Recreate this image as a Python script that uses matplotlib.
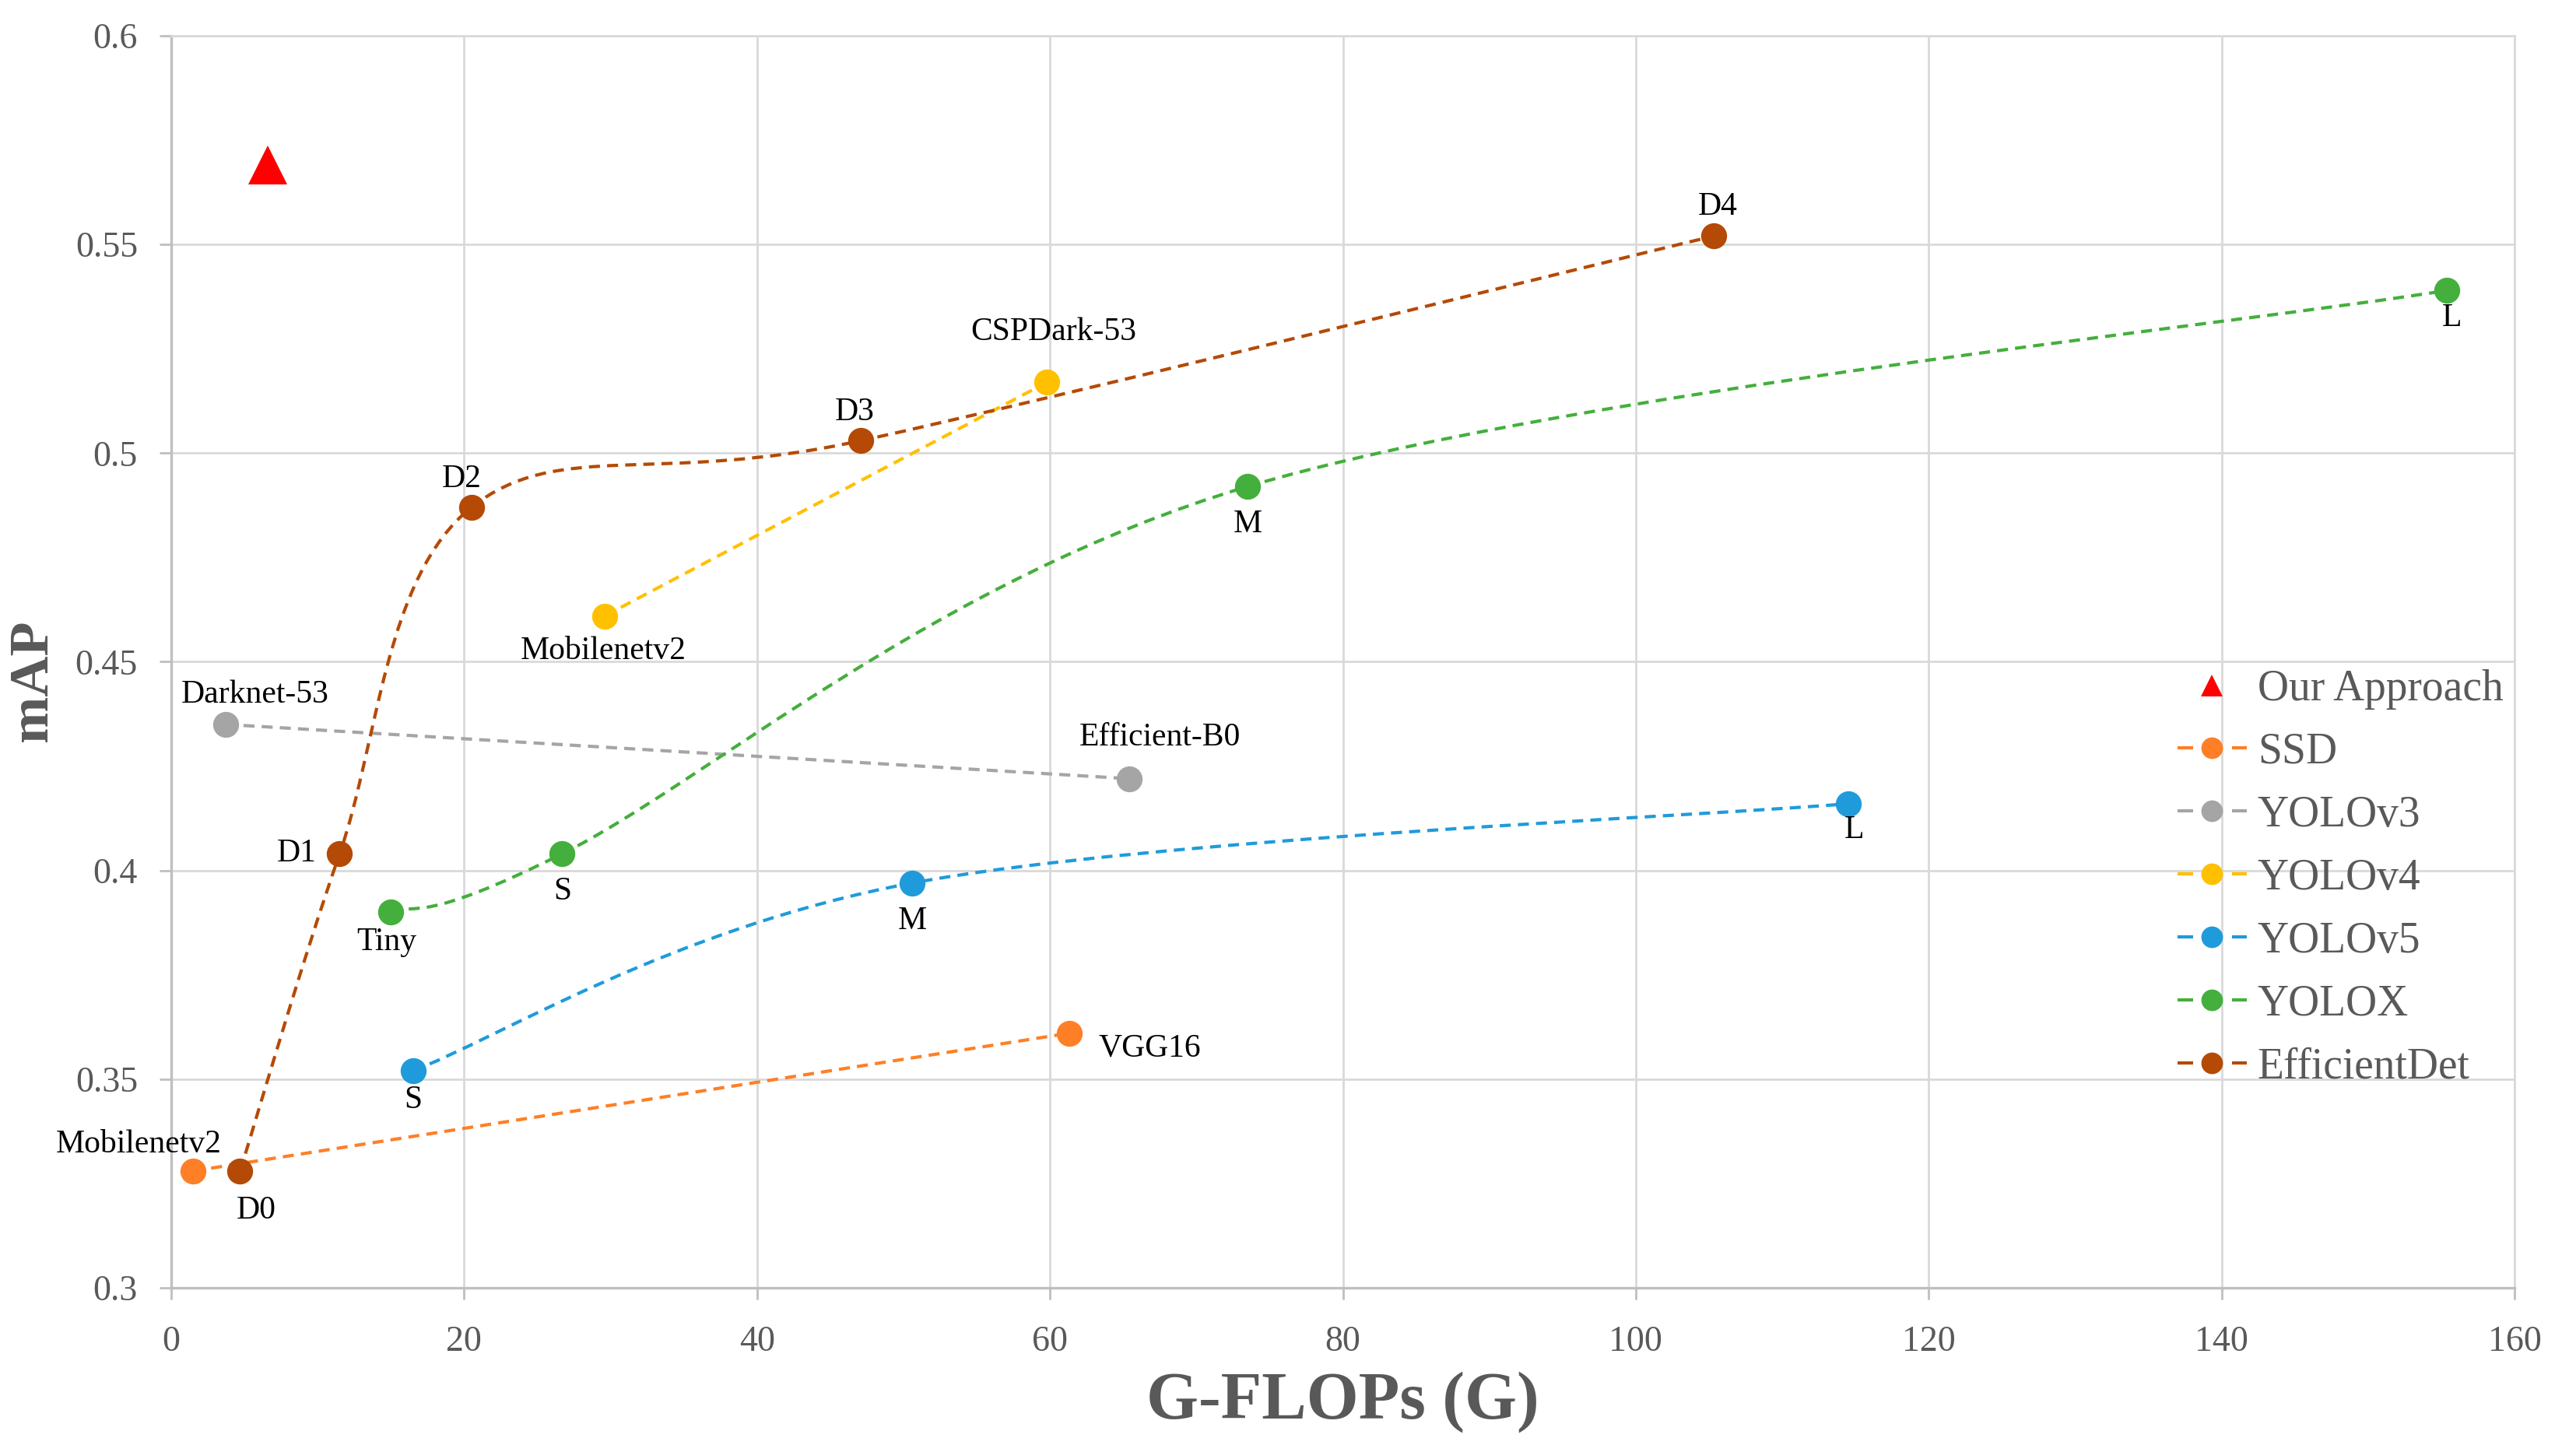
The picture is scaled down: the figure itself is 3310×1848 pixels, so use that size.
import matplotlib
matplotlib.use("Agg")
import matplotlib.pyplot as plt
from matplotlib.path import Path
from matplotlib.patches import PathPatch
from matplotlib.lines import Line2D
import numpy as np

plt.rcParams['font.family'] = ['Liberation Serif', 'DejaVu Serif']

# ---------------- data ----------------
ours_x = [6.6]
ours_y = [0.569]

ssd_x = [1.5, 61.3]
ssd_y = [0.328, 0.361]
ssd_labels = ["Mobilenetv2", "VGG16"]

v3_x = [3.7, 65.4]
v3_y = [0.435, 0.422]
v3_labels = ["Darknet-53", "Efficient-B0"]

v4_x = [29.6, 59.8]
v4_y = [0.461, 0.517]
v4_labels = ["Mobilenetv2", "CSPDark-53"]

v5_x = [16.5, 50.6, 114.5]
v5_y = [0.352, 0.397, 0.416]
v5_labels = ["S", "M", "L"]

yx_x = [15.0, 26.7, 73.5, 155.4]
yx_y = [0.390, 0.404, 0.492, 0.539]
yx_labels = ["Tiny", "S", "M", "L"]

ed_x = [4.7, 11.5, 20.5, 47.1, 105.3]
ed_y = [0.328, 0.404, 0.487, 0.503, 0.552]
ed_labels = ["D0", "D1", "D2", "D3", "D4"]

x_ticks = [0, 20, 40, 60, 80, 100, 120, 140, 160]
y_ticks = [0.3, 0.35, 0.4, 0.45, 0.5, 0.55, 0.6]
y_ticklabels = ["0.3", "0.35", "0.4", "0.45", "0.5", "0.55", "0.6"]

# ---------------- style ----------------
C_SSD = "#FF7F27"
C_V3 = "#A5A5A5"
C_V4 = "#FFC000"
C_V5 = "#1F9BDB"
C_YX = "#44AF3C"
C_ED = "#B44A06"
GRID = "#D9D9D9"
TXT = "#595959"

W, H = 3310, 1848
DPI = 200
fig = plt.figure(figsize=(W / DPI, H / DPI), dpi=DPI)
ax = fig.add_axes([220 / W, 1 - 1655 / H, (3231 - 220) / W, (1655 - 46) / H])
ax.set_xlim(0, 160)
ax.set_ylim(0.3, 0.6)

LW = 1.5
DASH = (3.4, 2.2)
MS = 12


def smooth_path(xs, ys):
    pts = np.column_stack([xs, ys]).astype(float)
    n = len(pts)
    verts = [pts[0]]
    codes = [Path.MOVETO]
    for i in range(n - 1):
        p0 = pts[max(i - 1, 0)]
        p1 = pts[i]
        p2 = pts[i + 1]
        p3 = pts[min(i + 2, n - 1)]
        c1 = p1 + (p2 - p0) / 6.0
        c2 = p2 - (p3 - p1) / 6.0
        verts += [c1, c2, p2]
        codes += [Path.CURVE4] * 3
    return Path(verts, codes)


def series(xs, ys, color, labels, offsets):
    patch = PathPatch(smooth_path(xs, ys), fill=False, edgecolor=color,
                      linewidth=LW, linestyle=(0, DASH), zorder=3,
                      capstyle='butt')
    ax.add_patch(patch)
    ax.plot(xs, ys, linestyle='none', marker='o', markersize=MS,
            color=color, markeredgewidth=0, zorder=4)
    for x, y, lab, off in zip(xs, ys, labels, offsets):
        ax.annotate(lab, (x, y), xytext=off, textcoords='offset pixels',
                    ha='center', va='center', fontsize=15, color='black',
                    zorder=5)


series(ssd_x, ssd_y, C_SSD, ssd_labels, [(-70, 34), (104, -19)])
series(v3_x, v3_y, C_V3, v3_labels, [(38, 38), (40, 53)])
series(v4_x, v4_y, C_V4, v4_labels, [(-2, -45), (8, 64)])
series(v5_x, v5_y, C_V5, v5_labels, [(0, -38), (0, -49), (8, -34)])
series(yx_x, yx_y, C_YX, yx_labels, [(-6, -38), (0, -49), (0, -49), (6, -36)])
series(ed_x, ed_y, C_ED, ed_labels, [(21, -51), (-55, 0), (-13, 36), (-8, 36), (6, 38)])

ax.plot(ours_x, ours_y, linestyle='none', marker='^', markersize=18,
        color='#FF0000', markeredgewidth=0, zorder=4)

# ---------------- axes ----------------
ax.set_xticks(x_ticks)
ax.set_yticks(y_ticks)
ax.set_yticklabels(y_ticklabels)
ax.grid(True, color=GRID, linewidth=1.0, zorder=0)
ax.set_axisbelow(True)
for s in ['top', 'right']:
    ax.spines[s].set_color(GRID)
    ax.spines[s].set_linewidth(1.0)
for s in ['left', 'bottom']:
    ax.spines[s].set_color('#BFBFBF')
    ax.spines[s].set_linewidth(1.2)
ax.tick_params(axis='both', colors='#BFBFBF', labelcolor=TXT, labelsize=16.5,
               length=5.5, width=1.0, direction='out')
ax.tick_params(axis='y', pad=10)
ax.tick_params(axis='x', pad=12)

ax.set_xlabel("G-FLOPs (G)", fontsize=31, fontweight='bold', color=TXT,
              labelpad=6)
ax.set_ylabel("mAP", fontsize=26, fontweight='bold', color=TXT)
ax.yaxis.set_label_coords(-0.048, 0.485)

# ---------------- legend ----------------
lw_px = LW * DPI / 72.0
handles = [
    Line2D([], [], linestyle='none', marker='^', markersize=10,
           color='#FF0000', markeredgewidth=0),
]
for c in [C_SSD, C_V3, C_V4, C_V5, C_YX, C_ED]:
    handles.append(Line2D([], [], color=c, linewidth=LW,
                          dashes=(20 / lw_px, 50 / lw_px), marker='o',
                          markersize=10, markeredgewidth=0))
names = ["Our Approach", "SSD", "YOLOv3", "YOLOv4", "YOLOv5", "YOLOX",
         "EfficientDet"]
leg = fig.legend(handles, names, loc='upper left',
                 bbox_to_anchor=(2798 / W, 1 - 860 / H), frameon=False,
                 prop={'size': 20}, handlelength=1.6,
                 handletextpad=0.25, labelspacing=0.52, borderpad=0,
                 borderaxespad=0)
for t in leg.get_texts():
    t.set_color(TXT)

fig.savefig("out.png", dpi=DPI)
